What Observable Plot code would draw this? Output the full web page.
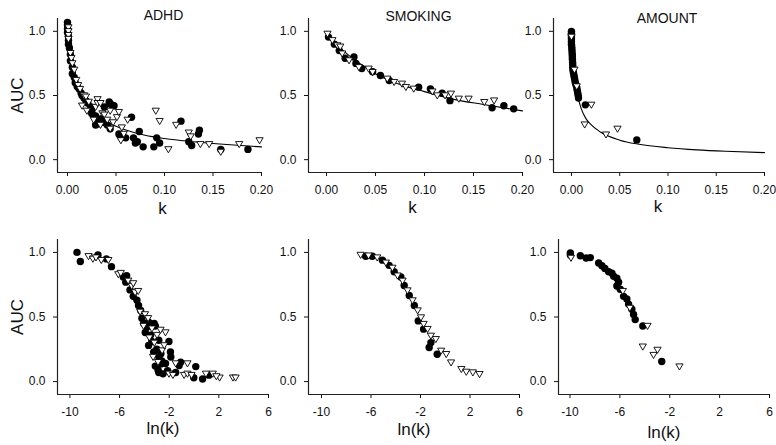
<!DOCTYPE html>
<html><head><meta charset="utf-8">
<script src="https://cdn.jsdelivr.net/npm/d3@7"></script>
<script src="https://cdn.jsdelivr.net/npm/@observablehq/plot@0.6"></script>
<style>
body{margin:0;background:#fff;}
#chart{position:relative;width:776px;height:445px;background:#fff;overflow:hidden;font-family:"Liberation Sans",Arial,sans-serif;}
#chart svg{position:absolute;}
</style></head><body><div id="chart"></div>
<script>
// ---------- Data ----------
const panelTitles = ["ADHD", "SMOKING", "AMOUNT"];
const kTicks = [0, 0.05, 0.10, 0.15, 0.20];
const lnkTicks = [-10, -6, -2, 2, 6];
const aucTicks = [0, 0.5, 1.0];

// ADHD, AUC vs k
const adhdKFilled = [[0.000,1.07],[0.000,1.05],[0.000,1.02],[0.000,0.99],[0.001,0.96],[0.001,0.93],[0.001,0.90],[0.002,0.87],[0.003,0.82],[0.003,0.77],[0.005,0.72],[0.005,0.67],[0.007,0.64],[0.008,0.60],[0.010,0.57],[0.012,0.55],[0.014,0.52],[0.015,0.50],[0.017,0.48],[0.019,0.46],[0.021,0.44],[0.024,0.41],[0.025,0.38],[0.025,0.36],[0.027,0.34],[0.029,0.34],[0.030,0.31],[0.031,0.30],[0.032,0.28],[0.029,0.27],[0.035,0.32],[0.038,0.29],[0.041,0.27],[0.044,0.24],[0.038,0.41],[0.043,0.45],[0.045,0.43],[0.048,0.42],[0.053,0.20],[0.054,0.19],[0.057,0.18],[0.060,0.17],[0.066,0.33],[0.068,0.17],[0.070,0.13],[0.072,0.14],[0.074,0.22],[0.078,0.10],[0.089,0.10],[0.092,0.17],[0.095,0.13],[0.117,0.30],[0.125,0.14],[0.128,0.11],[0.135,0.20],[0.136,0.23],[0.158,0.08],[0.186,0.08]];
const adhdKOpen = [[0.001,1.03],[0.001,1.00],[0.001,0.97],[0.001,0.94],[0.003,0.83],[0.004,0.79],[0.005,0.75],[0.007,0.70],[0.009,0.62],[0.011,0.58],[0.013,0.55],[0.015,0.42],[0.017,0.50],[0.019,0.49],[0.020,0.38],[0.022,0.45],[0.027,0.31],[0.029,0.41],[0.031,0.47],[0.031,0.44],[0.034,0.44],[0.034,0.27],[0.036,0.36],[0.038,0.35],[0.041,0.31],[0.044,0.38],[0.044,0.24],[0.047,0.29],[0.051,0.33],[0.053,0.37],[0.055,0.15],[0.056,0.25],[0.058,0.20],[0.062,0.31],[0.091,0.38],[0.095,0.30],[0.104,0.08],[0.112,0.27],[0.125,0.21],[0.127,0.18],[0.137,0.12],[0.146,0.12],[0.158,0.06],[0.177,0.12],[0.198,0.15]];
const adhdCurveK   = [0,0.001,0.002,0.004,0.006,0.008,0.01,0.015,0.02,0.03,0.04,0.05,0.065,0.08,0.1,0.12,0.15,0.175,0.2];
const adhdCurveAUC = [1.0,0.92,0.86,0.76,0.68,0.62,0.58,0.49,0.43,0.35,0.30,0.26,0.22,0.19,0.165,0.147,0.126,0.112,0.10];

// SMOKING, AUC vs k
const smokKFilled = [[0.002,0.955],[0.008,0.90],[0.013,0.85],[0.019,0.79],[0.028,0.80],[0.030,0.75],[0.036,0.71],[0.047,0.685],[0.055,0.656],[0.064,0.617],[0.094,0.565],[0.106,0.552],[0.118,0.518],[0.126,0.46],[0.169,0.404],[0.181,0.42],[0.191,0.396]];
const smokKOpen = [[0.001,0.98],[0.006,0.93],[0.011,0.89],[0.014,0.88],[0.016,0.826],[0.023,0.773],[0.033,0.72],[0.043,0.708],[0.047,0.682],[0.062,0.63],[0.069,0.604],[0.077,0.591],[0.081,0.565],[0.089,0.552],[0.108,0.53],[0.113,0.50],[0.121,0.50],[0.127,0.513],[0.135,0.474],[0.145,0.474],[0.161,0.448],[0.171,0.46]];
const smokCurveK   = [0,0.005,0.01,0.02,0.03,0.04,0.05,0.07,0.1,0.13,0.16,0.2];
const smokCurveAUC = [1.0,0.95,0.90,0.83,0.77,0.72,0.67,0.60,0.53,0.47,0.43,0.38];

// AMOUNT, AUC vs k
const amtKFilled = [[0.000,1.00],[0.000,0.985],[0.000,0.97],[0.000,0.955],[0.000,0.94],[0.000,0.92],[0.000,0.90],[0.0003,0.88],[0.0005,0.86],[0.0006,0.84],[0.0008,0.82],[0.0009,0.80],[0.0010,0.78],[0.0012,0.76],[0.0013,0.74],[0.0014,0.72],[0.0015,0.70],[0.0020,0.68],[0.0025,0.66],[0.0030,0.64],[0.0035,0.62],[0.0040,0.60],[0.0048,0.58],[0.0055,0.56],[0.0060,0.54],[0.0065,0.52],[0.0070,0.50],[0.0073,0.48],[0.0144,0.427],[0.0677,0.154]];
const amtKOpen = [[0.000,0.957],[0.0031,0.70],[0.0055,0.57],[0.0137,0.273],[0.0206,0.427],[0.0358,0.195],[0.0477,0.24]];
const amtCurveK   = [0,0.0005,0.001,0.002,0.004,0.006,0.008,0.01,0.015,0.02,0.03,0.05,0.07,0.1,0.13,0.16,0.2];
const amtCurveAUC = [1.0,0.91,0.84,0.735,0.60,0.51,0.45,0.40,0.32,0.275,0.215,0.152,0.12,0.093,0.076,0.065,0.055];

// ADHD, AUC vs ln(k)
const adhdLnFilled = [[-9.43,1.00],[-9.16,0.93],[-7.74,0.98],[-7.06,0.95],[-6.65,0.89],[-5.7,0.81],[-5.43,0.82],[-5.5,0.77],[-5.16,0.71],[-4.9,0.66],[-4.6,0.63],[-4.47,0.59],[-4.3,0.55],[-4.2,0.49],[-4.05,0.45],[-3.93,0.38],[-3.8,0.42],[-3.66,0.46],[-3.5,0.36],[-3.21,0.45],[-3.12,0.43],[-3.66,0.28],[-3.4,0.31],[-3.25,0.23],[-3.0,0.25],[-2.84,0.32],[-2.84,0.19],[-2.67,0.215],[-2.6,0.16],[-2.02,0.31],[-1.9,0.23],[-1.87,0.19],[-3.12,0.12],[-2.9,0.09],[-2.67,0.137],[-2.3,0.14],[-2.84,0.07],[-2.5,0.06],[-2.13,0.085],[-1.48,0.07],[-1.2,0.124],[-1.08,0.15],[-0.02,0.03],[0.14,0.116],[0.69,0.02],[1.2,0.05]];
const adhdLnOpen = [[-8.5,0.97],[-8.15,0.95],[-7.9,0.96],[-7.47,0.94],[-6.9,0.94],[-6.1,0.83],[-5.9,0.84],[-5.3,0.78],[-5.02,0.74],[-4.75,0.69],[-4.9,0.76],[-4.5,0.70],[-4.34,0.54],[-4.07,0.43],[-3.95,0.52],[-3.7,0.49],[-3.39,0.41],[-3.6,0.34],[-2.98,0.36],[-2.3,0.38],[-2.7,0.40],[-3.2,0.30],[-2.57,0.24],[-2.4,0.28],[-3.3,0.19],[-2.9,0.15],[-1.48,0.14],[-0.53,0.14],[-2.02,0.06],[-1.7,0.05],[-0.8,0.05],[-0.53,0.06],[-0.2,0.05],[0.96,0.06],[1.51,0.06],[2.06,0.03],[1.8,0.04],[3.14,0.03],[3.35,0.03]];

// SMOKING, AUC vs ln(k)
const smokLnFilled = [[-6.43,0.97],[-5.9,0.97],[-5.08,0.94],[-4.54,0.90],[-4.13,0.85],[-3.59,0.81],[-3.32,0.744],[-2.91,0.667],[-2.5,0.589],[-2.18,0.47],[-1.75,0.406],[-1.16,0.302],[-1.3,0.264],[-0.65,0.212]];
const smokLnOpen = [[-6.84,0.98],[-6.2,0.975],[-5.5,0.96],[-4.8,0.92],[-4.27,0.88],[-3.86,0.82],[-3.45,0.78],[-3.05,0.705],[-2.64,0.628],[-2.23,0.55],[-1.96,0.496],[-1.75,0.445],[-1.43,0.406],[-1.16,0.354],[-0.76,0.328],[-0.33,0.238],[0.08,0.212],[0.47,0.147],[1.3,0.096],[1.7,0.075],[2.23,0.07],[2.77,0.057]];

// AMOUNT, AUC vs ln(k)
const amtLnFilled = [[-9.97,0.995],[-9.97,0.98],[-9.17,0.974],[-8.7,0.957],[-8.37,0.96],[-7.7,0.918],[-7.44,0.897],[-7.2,0.875],[-6.9,0.85],[-6.64,0.84],[-6.5,0.815],[-6.24,0.80],[-6.1,0.77],[-6.24,0.74],[-5.97,0.715],[-5.7,0.66],[-5.44,0.64],[-5.3,0.60],[-5.04,0.56],[-4.9,0.52],[-4.77,0.48],[-4.16,0.43],[-2.64,0.155]];
const amtLnOpen = [[-9.92,0.957],[-5.76,0.70],[-5.2,0.57],[-3.78,0.43],[-4.16,0.27],[-2.98,0.245],[-3.3,0.205],[-1.22,0.116]];

// ---------- Drawing ----------
const chart = document.getElementById("chart");
const FONT = '"Liberation Sans", Arial, Helvetica, sans-serif';
const triDown = {draw(ctx, size) {
  const r = Math.sqrt(size / Math.PI);
  ctx.moveTo(-r, -0.75 * r); ctx.lineTo(r, -0.75 * r); ctx.lineTo(0, 0.95 * r); ctx.closePath();
}};

function panel(c) {
  const marks = [
    Plot.ruleX([c.xDomain[0]], {stroke: "#222", strokeWidth: 1.2}),
    Plot.ruleY([c.yDomain[0]], {stroke: "#222", strokeWidth: 1.2})
  ];
  if (c.curveK) {
    const pts = c.curveK.map((k, i) => ({k, auc: c.curveAUC[i]}));
    marks.push(Plot.line(pts, {x: "k", y: "auc", curve: "monotone-x", stroke: "#000", strokeWidth: 1.1}));
  }
  marks.push(Plot.dot(c.filled, {x: d => d[0], y: d => d[1], r: 3.7, fill: "#000", stroke: "none"}));
  marks.push(Plot.dot(c.open, {x: d => d[0], y: d => d[1], r: 3.6, symbol: triDown, fill: "#fff", stroke: "#000", strokeWidth: 0.9}));
  const common = {text: d => d, textAnchor: "middle", lineAnchor: "middle", fill: "#111"};
  if (c.title) marks.push(Plot.text([c.title], {...common, frameAnchor: "top", dx: c.titleDx, dy: c.titleDy, fontSize: 14}));
  marks.push(Plot.text([c.xLabel], {...common, frameAnchor: "bottom", dx: c.xLabelDx, dy: c.xLabelDy, fontSize: 17}));
  if (c.yLabel) marks.push(Plot.text([c.yLabel], {...common, frameAnchor: "left", dx: -40, rotate: -90, fontSize: 17}));
  const svg = Plot.plot({
    width: c.mL + c.fw + c.mR, height: c.mT + c.fh + c.mB,
    marginLeft: c.mL, marginRight: c.mR, marginTop: c.mT, marginBottom: c.mB,
    x: {domain: c.xDomain, ticks: c.xTicks, tickFormat: c.xFormat, tickSize: 4, tickPadding: 9, label: null},
    y: {domain: c.yDomain, ticks: aucTicks, tickFormat: d3.format(".1f"), tickSize: 4, tickPadding: 8, label: null},
    style: {background: "transparent", fontSize: "12px", fontFamily: FONT, color: "#111", overflow: "visible", maxWidth: "none"},
    marks
  });
  svg.style.left = c.left + "px";
  svg.style.top = c.top + "px";
  chart.appendChild(svg);
}

const kFmt = d3.format(".2f");
const lnFmt = d => String(d);
const topRow = {top: 0, mT: 18, fh: 154, mB: 53, yDomain: [-0.1, 1.1], xTicks: kTicks, xFormat: kFmt, xLabel: "k"};
const botRow = {top: 225, mT: 14, fh: 155, mB: 51, yDomain: [-0.1, 1.1], xTicks: lnkTicks, xFormat: lnFmt, xLabel: "ln(k)"};

panel({...topRow, left: 0, mL: 57, fw: 204, mR: 12, xDomain: [-0.0103, 0.2], filled: adhdKFilled, open: adhdKOpen,
  curveK: adhdCurveK, curveAUC: adhdCurveAUC, title: panelTitles[0], titleDx: 4, titleDy: -2.5, xLabelDx: 3, xLabelDy: 36, yLabel: "AUC"});
panel({...topRow, left: 251, mL: 57, fw: 214, mR: 10, xDomain: [-0.0184, 0.2], filled: smokKFilled, open: smokKOpen,
  curveK: smokCurveK, curveAUC: smokCurveAUC, title: panelTitles[1], titleDx: 3, titleDy: -2, xLabelDx: -3, xLabelDy: 35});
panel({...topRow, left: 496, mL: 57, fw: 211, mR: 10, xDomain: [-0.0186, 0.2], filled: amtKFilled, open: amtKOpen,
  curveK: amtCurveK, curveAUC: amtCurveAUC, title: panelTitles[2], titleDx: 8, titleDy: 0, xLabelDx: -1, xLabelDy: 34});

panel({...botRow, left: 0, mL: 57, fw: 211, mR: 12, xDomain: [-11, 6], filled: adhdLnFilled, open: adhdLnOpen,
  xLabelDx: 0, xLabelDy: 34, yLabel: "AUC"});
panel({...botRow, left: 251, mL: 57, fw: 211, mR: 10, xDomain: [-11.05, 6], filled: smokLnFilled, open: smokLnOpen,
  xLabelDx: 0, xLabelDy: 35});
panel({...botRow, left: 501, mL: 57, fw: 211, mR: 7, xDomain: [-10.92, 6], filled: amtLnFilled, open: amtLnOpen,
  xLabelDx: 0, xLabelDy: 38});
</script></body></html>
